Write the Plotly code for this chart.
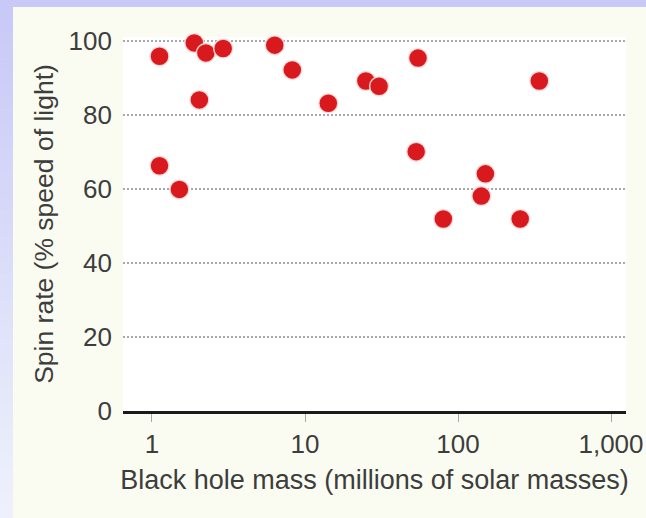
import plotly.graph_objects as go

# Black hole mass (millions of solar masses) and measured spin rate (% of light speed)
masses = [1.12, 1.12, 1.51, 1.89, 2.04, 2.25, 2.92, 6.34, 8.26, 14.2,
          25.0, 30.5, 54.8, 53.3, 80.2, 151, 142, 255, 340]
spins = [95.9, 66.3, 59.9, 99.5, 84.1, 96.8, 98.0, 98.9, 92.2, 83.2,
         89.2, 87.8, 95.4, 70.1, 51.9, 64.1, 58.1, 51.9, 89.2]

x_tick_vals = [1, 10, 100, 1000]
x_tick_text = ["1", "10", "100", "1,000"]
y_tick_vals = [0, 20, 40, 60, 80, 100]

W, H = 646, 518
ML, MR, MT, MB = 123, 20, 37, 107
PW, PH = W - ML - MR, H - MT - MB

FONT = "Liberation Sans, Arial, sans-serif"
TEXT = "#3d3d3d"
CREAM = "#fafcf1"


def px_x(px):
    return (px - ML) / PW


def px_y(py):
    return (H - MB - py) / PH


fig = go.Figure(
    go.Scatter(
        x=masses,
        y=spins,
        mode="markers",
        cliponaxis=False,
        marker=dict(size=19, color="#d8191e",
                    line=dict(color="rgba(255,225,225,0.9)", width=1.5)),
        hoverinfo="x+y",
    )
)

shapes = []
# lavender top band
shapes.append(dict(type="rect", xref="paper", yref="paper", layer="below",
                   x0=px_x(0), x1=px_x(W), y0=px_y(7), y1=px_y(0),
                   fillcolor="#c9c9f7", line=dict(width=0)))
# lavender left band fading towards the bottom
n = 40
c0, c1 = (200, 201, 247), (238, 241, 251)
for i in range(n):
    t = i / (n - 1)
    col = tuple(round(a + (b - a) * t) for a, b in zip(c0, c1))
    shapes.append(dict(type="rect", xref="paper", yref="paper", layer="below",
                       x0=px_x(0), x1=px_x(13),
                       y0=px_y(7 + (H - 7) * (i + 1) / n + 0.5),
                       y1=px_y(7 + (H - 7) * i / n),
                       fillcolor="rgb(%d,%d,%d)" % col, line=dict(width=0)))

fig.update_layout(
    width=W, height=H,
    margin=dict(l=ML, r=MR, t=MT, b=MB, autoexpand=False),
    paper_bgcolor=CREAM,
    plot_bgcolor="white",
    showlegend=False,
    shapes=shapes,
    font=dict(family=FONT, color=TEXT),
    xaxis=dict(
        type="log",
        automargin=False,
        range=[-0.1895, 3.098],
        tickvals=x_tick_vals, ticktext=x_tick_text,
        tickfont=dict(size=26, color=TEXT),
        ticks="outside", ticklen=8, tickwidth=1, tickcolor="#aaaaaa",
        showgrid=False, zeroline=False,
        showline=True, linecolor="#1a1a1a", linewidth=3,
        title=dict(text="Black hole mass (millions of solar masses)",
                   font=dict(size=27, color=TEXT), standoff=12),
    ),
    yaxis=dict(
        automargin=False,
        range=[0, 101.1],
        tickvals=y_tick_vals,
        tickfont=dict(size=26, color=TEXT),
        ticks="", ticklabelstandoff=10,
        showgrid=True, gridcolor="#a8a8a8", gridwidth=1.5, griddash="2px,2px",
        zeroline=False, showline=False,
        title=dict(text="Spin rate (% speed of light)",
                   font=dict(size=26.5, color=TEXT), standoff=7),
    ),
)

fig.write_html("out.html")
